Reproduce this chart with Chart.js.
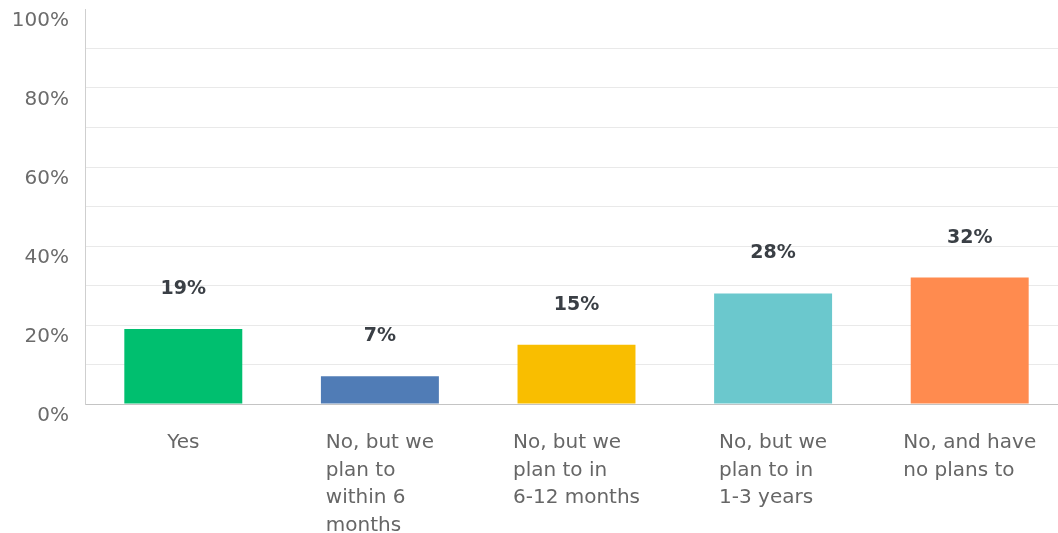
<!DOCTYPE html>
<html>
<head>
<meta charset="utf-8">
<title>Survey responses</title>
<script src="https://cdn.jsdelivr.net/npm/chart.js@4/dist/chart.umd.min.js"></script>
<style>
  html, body { margin: 0; padding: 0; background: #ffffff; overflow: hidden; }
  #wrap { width: 1068px; height: 533px; }
</style>
</head>
<body>
<div id="wrap"><canvas id="chart" width="1068" height="533"></canvas></div>
<script>
// Answer categories (one entry per line of the axis label)
const categories = [
  ['Yes'],
  ['No, but we', 'plan to', 'within 6', 'months'],
  ['No, but we', 'plan to in', '6-12 months'],
  ['No, but we', 'plan to in', '1-3 years'],
  ['No, and have', 'no plans to']
];

// Share of respondents, in percent
const values = [19, 7, 15, 28, 32];

// Labelled y-axis ticks (percent)
const yTickValues = [0, 20, 40, 60, 80, 100];

// Bar fill colours
const barColors = ['#00bf6f', '#507cb6', '#f9be00', '#6bc8cd', '#ff8b4f'];

const FONT = '"DejaVu Sans", sans-serif';

// Value label above each bar
const valueLabels = {
  id: 'valueLabels',
  afterDatasetsDraw(chart) {
    const ctx = chart.ctx;
    const meta = chart.getDatasetMeta(0);
    ctx.save();
    ctx.font = 'bold 19px ' + FONT;
    ctx.fillStyle = '#3a3f45';
    ctx.textAlign = 'center';
    ctx.textBaseline = 'middle';
    meta.data.forEach((bar, i) => {
      ctx.fillText(values[i] + '%', bar.x, bar.y - 40);
    });
    ctx.restore();
  }
};

// Category labels: each block centred under its bar, lines left-aligned inside it
const categoryLabels = {
  id: 'categoryLabels',
  afterDraw(chart) {
    const ctx = chart.ctx;
    const xScale = chart.scales.x;
    ctx.save();
    ctx.font = '20px ' + FONT;
    ctx.fillStyle = '#666666';
    ctx.textAlign = 'left';
    ctx.textBaseline = 'middle';
    categories.forEach((lines, i) => {
      const cx = xScale.getPixelForTick(i);
      const w = Math.max(...lines.map(l => ctx.measureText(l).width));
      const left = cx - w / 2;
      lines.forEach((line, j) => {
        ctx.fillText(line, left, chart.chartArea.bottom + 39 + j * 27.5);
      });
    });
    ctx.restore();
  }
};

new Chart(document.getElementById('chart'), {
  type: 'bar',
  data: {
    labels: categories,
    datasets: [{
      data: values,
      backgroundColor: barColors,
      borderWidth: 0,
      barPercentage: 0.6,
      categoryPercentage: 1.0
    }]
  },
  options: {
    responsive: false,
    animation: false,
    layout: { padding: { top: 9, right: 0, bottom: 0, left: 0 } },
    plugins: {
      legend: { display: false },
      tooltip: { enabled: false }
    },
    scales: {
      x: {
        grid: { display: false, drawTicks: false },
        border: { display: true, color: '#c4c4c4', width: 1 },
        ticks: { display: false },
        afterFit(scale) {
          scale.height = 129;
          scale.paddingLeft = 0;
          scale.paddingRight = 0;
        }
      },
      y: {
        min: 0,
        max: 100,
        grid: {
          drawTicks: false,
          color: (c) => (c.tick && c.tick.value === 100) ? 'rgba(0,0,0,0)' : '#e9e9e9',
          lineWidth: 1
        },
        border: { display: true, color: '#cfcfcf', width: 1 },
        ticks: {
          stepSize: 10,
          padding: 16,
          labelOffset: 12,
          color: '#6b6b6b',
          font: { family: FONT, size: 20 },
          callback: (v) => yTickValues.includes(v) ? v + '%' : ''
        },
        afterFit(scale) {
          scale.width = 85;
          scale.paddingTop = 0;
          scale.paddingBottom = 0;
        }
      }
    }
  },
  plugins: [valueLabels, categoryLabels]
});
</script>
</body>
</html>
